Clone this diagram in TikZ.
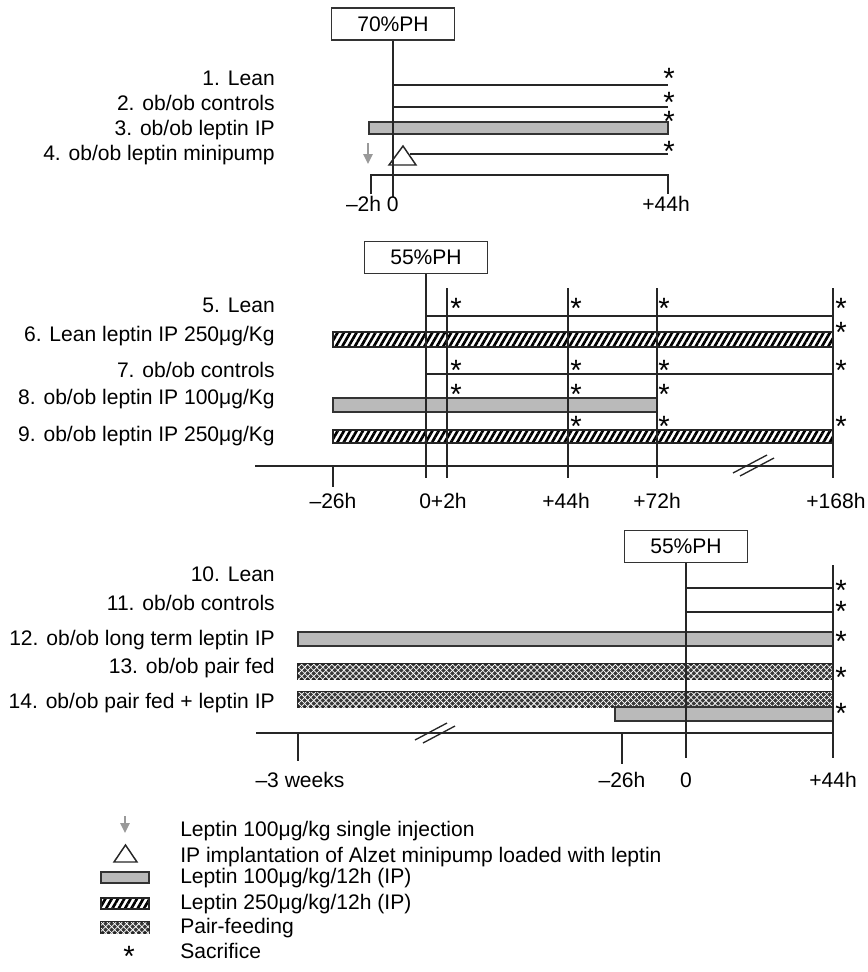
\documentclass[tikz,border=0pt]{standalone}
\usepackage{fontspec}
\setmainfont{Liberation Sans}
\usetikzlibrary{arrows.meta,patterns.meta}

\newcommand\lbfont{\fontsize{15.8}{18}\selectfont}

\tikzset{
  ln/.style={draw=black!85, line width=1.1pt},
  phbox/.style={rectangle, draw=black!80, line width=1.1pt, fill=white,
    minimum width=92pt, minimum height=24pt, inner sep=0pt, font=\lbfont},
  lab/.style={anchor=base east, inner sep=0pt, font=\lbfont},
  tk/.style={anchor=base, inner sep=0pt, font=\lbfont},
  lgd/.style={anchor=base west, inner sep=0pt, font=\lbfont},
  sac/.style={anchor=base, inner sep=0pt, yshift=-11.8pt,
    font=\fontsize{22}{22}\selectfont},
  gbar/.style={draw=black!80, line width=1.1pt, fill=black!27},
  hbar/.style={draw=black!85, line width=1.1pt,
    pattern={Lines[angle=60, distance=4.1pt, line width=2pt]}},
  pbar/.style={draw=black!85, line width=1.1pt, fill=black!78,
    postaction={pattern={Lines[angle=45, distance=3.2pt, line width=0.55pt]}, pattern color=white},
    postaction={pattern={Lines[angle=-45, distance=3.2pt, line width=0.55pt]}, pattern color=white}},
  garrow/.style={draw=black!40, line width=1.4pt, -{Triangle[length=7.5pt, width=7pt]}},
  brk/.style={draw=black!85, line width=1pt},
}

\begin{document}
\begin{tikzpicture}[x=0.75pt, y=-0.75pt]
\useasboundingbox (0,0) rectangle (868,972);

% ---------- 70% PH ----------
\draw[gbar] (369,122) rectangle (668,134);
\draw[ln] (393,85) -- (668,85);
\draw[ln] (393,107) -- (668,107);
\draw[ln] (410,154) -- (668,154);
\draw[ln] (371,194) -- (371,175) -- (668,175) -- (668,194);
\draw[ln, fill=white] (389,165) -- (403,146) -- (416,165) -- cycle;
\draw[garrow] (368,143) -- (368,164);

\node[phbox] (ph70) at (393,24) {70\%PH};
\coordinate (z70) at (393,197);
\draw[ln] (ph70) -- (z70);

\foreach \t/\y [count=\i] in {{1. Lean}/85, {2. ob/ob controls}/110,
    {3. ob/ob leptin IP}/135, {4. ob/ob leptin minipump}/160}
  \node[lab] (la\i) at (275,\y) {\t};
\foreach \y [count=\i] in {73,97,116,146}
  \node[sac] (sa\i) at (669,\y) {*};

\node[tk, anchor=base east] (ta1) at (399,211) {–2h 0};
\node[tk] (ta2) at (666,211) {+44h};

% ---------- 55% PH, short ----------
\draw[hbar] (333,332) rectangle (833,347);
\draw[gbar] (333,398) rectangle (657,412);
\draw[hbar] (333,430) rectangle (833,443);
\draw[ln] (426,316) -- (833,316);
\draw[ln] (426,374) -- (833,374);
\draw[ln] (255,466) -- (833,466);
\draw[ln] (333,466) -- (333,487);
\draw[brk] (733,473) -- (767,455);
\draw[brk] (740,476) -- (774,458);

\node[phbox] (ph55a) at (426,257.5) {55\%PH};
\coordinate (z55a) at (426,478);
\draw[ln] (ph55a) -- (z55a);
\foreach \x in {447,568,657,833}
  \draw[ln] (\x,288) -- (\x,478);

\foreach \t/\y [count=\i] in {{5. Lean}/312, {6. Lean leptin IP 250μg/Kg}/341,
    {7. ob/ob controls}/377, {8. ob/ob leptin IP 100μg/Kg}/404,
    {9. ob/ob leptin IP 250μg/Kg}/441}
  \node[lab] (lb\i) at (275,\y) {\t};
\foreach \x/\y [count=\i] in {456/303, 576/303, 664/303, 841/303, 841/327,
    456/365, 576/365, 664/365, 841/365, 456/389, 576/389, 664/389,
    576/421, 664/421, 841/421}
  \node[sac] (sb\i) at (\x,\y) {*};

\node[tk] (tb1) at (333,508) {–26h};
\node[tk, anchor=base west] (tb2) at (419,508) {0+2h};
\node[tk] (tb3) at (566,508) {+44h};
\node[tk] (tb4) at (657,508) {+72h};
\node[tk] (tb5) at (836,508) {+168h};

% ---------- 55% PH, long term ----------
\draw[gbar] (298,632) rectangle (833,646);
\draw[pbar] (298,664) rectangle (833,679);
\draw[pbar] (298,692) rectangle (833,707);
\draw[gbar] (615,707) rectangle (833,721);
\draw[ln] (686,588) -- (833,588);
\draw[ln] (686,612) -- (833,612);
\draw[ln] (256,733) -- (833,733);
\draw[ln] (298,733) -- (298,761);
\draw[ln] (622,733) -- (622,764);
\draw[brk] (415,740) -- (447,723);
\draw[brk] (423,743) -- (455,726);

\node[phbox] (ph55b) at (686,546.5) {55\%PH};
\coordinate (z55b) at (686,758);
\draw[ln] (ph55b) -- (z55b);
\draw[ln] (833,565) -- (833,758);

\foreach \t/\y [count=\i] in {{10. Lean}/581, {11. ob/ob controls}/610,
    {12. ob/ob long term leptin IP}/645, {13. ob/ob pair fed}/673,
    {14. ob/ob pair fed + leptin IP}/708}
  \node[lab] (lc\i) at (275,\y) {\t};
\foreach \y [count=\i] in {585,606,636,672,708}
  \node[sac] (sc\i) at (841,\y) {*};

\node[tk] (tc1) at (300,787) {–3 weeks};
\node[tk] (tc2) at (622,787) {–26h};
\node[tk] (tc3) at (686,787) {0};
\node[tk] (tc4) at (833,787) {+44h};

% ---------- legend ----------
\draw[garrow] (125,816) -- (125,833);
\draw[ln] (114,862) -- (125.5,845) -- (137,862) -- cycle;
\draw[gbar] (101,872) rectangle (149,883);
\draw[hbar] (101,898) rectangle (149,909);
\draw[pbar] (101,922) rectangle (149,933);
\node[sac] (sl) at (129,951) {*};

\node[lgd] (lg1) at (180,836) {Leptin 100μg/kg single injection};
\node[lgd] (lg2) at (180,862) {IP implantation of Alzet minipump loaded with leptin};
\node[lgd] (lg3) at (180,883) {Leptin 100μg/kg/12h (IP)};
\node[lgd] (lg4) at (180,909) {Leptin 250μg/kg/12h (IP)};
\node[lgd] (lg5) at (180,933) {Pair-feeding};
\node[lgd] (lg6) at (180,958) {Sacrifice};
\end{tikzpicture}
\end{document}
